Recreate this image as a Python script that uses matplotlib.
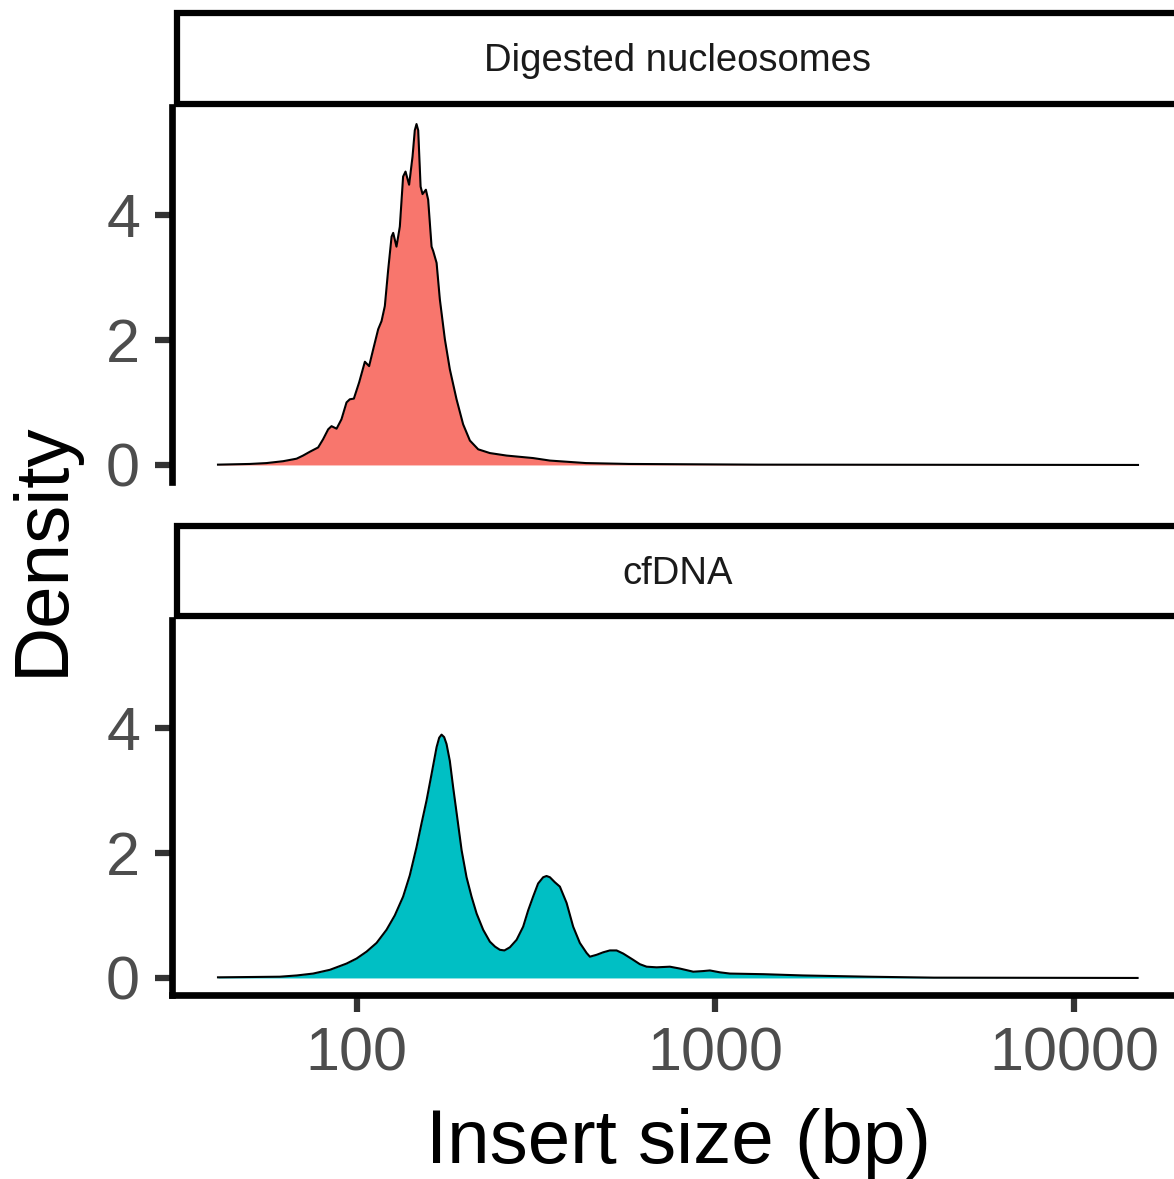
import matplotlib
matplotlib.use("Agg")
import matplotlib.pyplot as plt
from matplotlib.patches import Rectangle
import numpy as np

plt.rcParams['font.family'] = ['Liberation Sans', 'DejaVu Sans']

# insert size density, digested nucleosomes
nuc_bp = [41.0, 50.3, 56.0, 62.3, 67.9, 70.8, 73.9, 78.0, 80.5, 83.2, 85.0, 87.8,
          90.6, 93.6, 95.6, 98.1, 101.5, 105.3, 108.2, 111.1, 114.7, 117.2, 119.7,
          122.3, 125.0, 126.3, 129.0, 131.8, 134.6, 136.7, 139.9, 143.0, 145.1,
          146.7, 148.3, 150.6, 152.5, 155.8, 158.1, 161.6, 163.3, 166.9, 170.4,
          176.0, 181.7, 189.7, 197.9, 206.7, 218.0, 235.0, 261.6, 310.2, 345.5,
          435.5, 573.9, 1314, 15090]
nuc_dens = [0.005, 0.016, 0.03, 0.06, 0.10, 0.15, 0.21, 0.28, 0.41, 0.57, 0.62, 0.58,
            0.73, 1.00, 1.05, 1.06, 1.32, 1.65, 1.58, 1.85, 2.17, 2.30, 2.54,
            3.12, 3.65, 3.71, 3.49, 3.81, 4.61, 4.69, 4.48, 4.93, 5.35,
            5.45, 5.35, 4.45, 4.33, 4.40, 4.24, 3.49, 3.42, 3.23, 2.65,
            2.01, 1.53, 1.05, 0.65, 0.39, 0.25, 0.19, 0.15, 0.11, 0.07,
            0.03, 0.016, 0.005, 0.0]

# insert size density, cfDNA
cf_bp = [41.0, 50.3, 61.0, 68.0, 75.5, 84.1, 93.6, 99.8, 106.4, 113.5, 121.0, 127.6,
         134.6, 140.5, 146.7, 151.5, 156.5, 161.6, 166.9, 169.7, 172.3, 175.2,
         177.9, 181.7, 185.6, 190.5, 196.0, 202.3, 208.9, 215.8, 225.1, 235.0,
         243.0, 250.6, 258.0, 267.2, 279.0, 291.0, 300.5, 310.2, 320.3, 330.9, 338.1,
         345.5, 356.7, 368.4, 384.6, 401.2, 418.8, 437.3, 446.7, 466.3, 486.5,
         507.8, 530.2, 553.2, 589.8, 615.7, 643.0, 685.5, 746.7, 796.2, 867.6,
         924.7, 965.4, 1029, 1098, 1365, 1754, 2665, 4070, 15050]
cf_dens = [0.01, 0.015, 0.02, 0.04, 0.07, 0.13, 0.23, 0.31, 0.42, 0.56, 0.77, 1.00,
           1.30, 1.64, 2.09, 2.47, 2.84, 3.26, 3.69, 3.84, 3.89, 3.85,
           3.74, 3.47, 3.05, 2.57, 2.04, 1.61, 1.30, 1.03, 0.77, 0.58,
           0.50, 0.45, 0.44, 0.49, 0.61, 0.82, 1.08, 1.30, 1.51, 1.61, 1.63,
           1.61, 1.53, 1.46, 1.20, 0.82, 0.56, 0.40, 0.34, 0.37, 0.41,
           0.44, 0.44, 0.39, 0.29, 0.22, 0.18, 0.17, 0.18, 0.15, 0.10,
           0.11, 0.12, 0.09, 0.07, 0.06, 0.04, 0.02, 0.005, 0.0]

panels = ['Digested nucleosomes', 'cfDNA']
fills = ['#F8766D', '#00BFC4']

W, H = 1174, 1179
fig = plt.figure(figsize=(W / 100, H / 100), dpi=100)

# ggplot-style 5% expansion on the log10 x range and on y
lo, hi = np.log10(min(nuc_bp)), np.log10(max(nuc_bp))
pad = 0.05 * (hi - lo)
xlim = (10 ** (lo - pad), 10 ** (hi + pad))
ymax = max(max(nuc_dens), max(cf_dens))
ylim = (-0.05 * ymax, 1.05 * ymax)

left, right = 172, 1184
panel_tops = [107, 620]
panel_h = 375
strip_y = [(13, 103.5), (526, 616)]

data = [(nuc_bp, nuc_dens), (cf_bp, cf_dens)]
axes = []
for i, (xs, ys) in enumerate(data):
    top = panel_tops[i]
    ax = fig.add_axes([left / W, 1 - (top + panel_h) / H,
                       (right - left) / W, panel_h / H])
    ax.fill_between(xs, ys, 0, color=fills[i], lw=0)
    ax.plot(xs, ys, color='black', lw=1.5, solid_joinstyle='round')
    ax.set_xscale('log')
    ax.set_xlim(xlim)
    ax.set_ylim(ylim)
    ax.set_yticks([0, 2, 4])
    ax.set_xticks([100, 1000, 10000])
    ax.set_xticklabels(['100', '1000', '10000'])
    ax.minorticks_off()
    for s in ['top', 'right']:
        ax.spines[s].set_visible(False)
    ax.spines['left'].set_linewidth(4.8)
    ax.spines['bottom'].set_linewidth(4.8)
    ax.tick_params(axis='both', length=12, width=4.5, color='#333333',
                   labelcolor='#4D4D4D', labelsize=44, pad=11)
    if i == 0:
        ax.spines['bottom'].set_visible(False)
        ax.tick_params(axis='x', bottom=False, labelbottom=False)
    ax.patch.set_alpha(0)

    # facet strip
    y0, y1 = strip_y[i]
    fig.patches.append(Rectangle((176.5 / W, 1 - y1 / H), (1220 - 176.5) / W,
                                 (y1 - y0) / H, transform=fig.transFigure,
                                 facecolor='white', edgecolor='black',
                                 lw=4.5, clip_on=False))
    fig.text((left + right) / 2 / W, 1 - ((y0 + y1) / 2 + 3) / H, panels[i],
             ha='center', va='center', fontsize=27.5, color='#1A1A1A')
    axes.append(ax)

fig.text(678 / W, 1 - 1163 / H, 'Insert size (bp)', ha='center',
         va='baseline', fontsize=55, color='black')
fig.text(43 / W, 1 - 549 / H, 'Density', ha='center', va='center',
         rotation=90, fontsize=55, color='black')

fig.savefig('out.png', dpi=100)
